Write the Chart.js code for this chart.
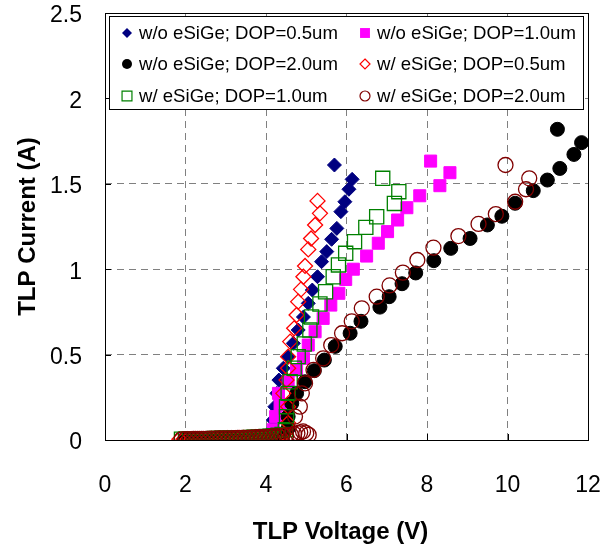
<!DOCTYPE html>
<html>
<head>
<meta charset="utf-8">
<script src="https://cdn.jsdelivr.net/npm/chart.js@4.4.1/dist/chart.umd.min.js"></script>
<style>
  html, body { margin: 0; padding: 0; background: #fff; }
  #wrap { width: 611px; height: 544px; }
</style>
</head>
<body>
<div id="wrap"><canvas id="tlpChart" width="611" height="544"></canvas></div>
<script>
// tick labels
const xTickLabels = ['0', '2', '4', '6', '8', '10', '12'];
const yTickLabels = ['0', '0.5', '1', '1.5', '2', '2.5'];

// w/o eSiGe; DOP=0.5um
const woDop05V = [1.95, 2.05, 2.15, 2.25, 2.35, 2.45, 2.55, 2.65, 2.75, 2.85, 2.95, 3.05, 3.15, 3.25, 3.35, 3.45, 3.55, 3.65, 3.75, 3.85, 3.95, 4.05, 4.12, 4.15, 4.18, 4.22, 4.27, 4.32, 4.43, 4.55, 4.68, 4.80, 4.93, 5.05, 5.15, 5.28, 5.38, 5.51, 5.63, 5.76, 5.86, 5.96, 6.06, 6.14, 5.70];
const woDop05I = [0.004, 0.005, 0.005, 0.006, 0.006, 0.007, 0.007, 0.008, 0.008, 0.009, 0.009, 0.010, 0.011, 0.011, 0.012, 0.013, 0.014, 0.015, 0.016, 0.018, 0.020, 0.024, 0.035, 0.060, 0.117, 0.195, 0.273, 0.351, 0.420, 0.488, 0.566, 0.644, 0.720, 0.800, 0.878, 0.956, 1.044, 1.103, 1.175, 1.239, 1.337, 1.395, 1.468, 1.526, 1.610];

// w/o eSiGe; DOP=1.0um
const woDop10V = [2.00, 2.10, 2.20, 2.30, 2.40, 2.50, 2.60, 2.70, 2.80, 2.90, 3.00, 3.10, 3.20, 3.30, 3.40, 3.50, 3.60, 3.70, 3.80, 3.90, 4.00, 4.10, 4.18, 4.24, 4.35, 4.31, 4.55, 4.76, 4.93, 5.05, 5.22, 5.42, 5.61, 5.81, 5.98, 6.17, 6.50, 6.79, 7.02, 7.27, 7.50, 7.82, 8.32, 8.57, 8.09];
const woDop10I = [0.005, 0.005, 0.006, 0.006, 0.007, 0.007, 0.008, 0.008, 0.009, 0.009, 0.010, 0.010, 0.011, 0.012, 0.012, 0.013, 0.014, 0.015, 0.016, 0.017, 0.019, 0.022, 0.060, 0.137, 0.205, 0.273, 0.341, 0.410, 0.478, 0.556, 0.634, 0.712, 0.790, 0.859, 0.940, 1.000, 1.077, 1.152, 1.220, 1.288, 1.360, 1.430, 1.489, 1.565, 1.633];

// w/o eSiGe; DOP=2.0um
const woDop20V = [2.00, 2.10, 2.20, 2.30, 2.40, 2.50, 2.60, 2.70, 2.80, 2.90, 3.00, 3.10, 3.20, 3.30, 3.40, 3.50, 3.60, 3.70, 3.80, 3.90, 4.00, 4.10, 4.20, 4.30, 4.40, 4.55, 4.55, 4.64, 4.76, 4.97, 5.20, 5.45, 5.72, 6.09, 6.36, 6.83, 7.06, 7.38, 7.72, 8.17, 8.59, 9.07, 9.50, 9.86, 10.19, 10.64, 10.99, 11.30, 11.65, 11.84, 11.24];
const woDop20I = [0.005, 0.005, 0.006, 0.006, 0.007, 0.007, 0.008, 0.008, 0.009, 0.009, 0.010, 0.010, 0.011, 0.012, 0.012, 0.013, 0.014, 0.015, 0.016, 0.017, 0.018, 0.020, 0.022, 0.025, 0.030, 0.068, 0.137, 0.215, 0.273, 0.341, 0.406, 0.468, 0.548, 0.625, 0.695, 0.778, 0.839, 0.915, 0.978, 1.050, 1.122, 1.180, 1.259, 1.310, 1.386, 1.460, 1.522, 1.590, 1.672, 1.741, 1.819];

// w/ eSiGe; DOP=0.5um
const wDop05V = [1.85, 1.95, 2.05, 2.15, 2.25, 2.35, 2.45, 2.55, 2.65, 2.75, 2.85, 2.95, 3.05, 3.15, 3.25, 3.35, 3.45, 3.55, 3.65, 3.75, 3.85, 3.95, 4.05, 4.15, 4.25, 4.35, 4.45, 4.55, 4.55, 4.43, 4.51, 4.55, 4.55, 4.60, 4.70, 4.76, 4.80, 4.87, 4.93, 4.97, 5.05, 5.12, 5.22, 5.34, 5.28];
const wDop05I = [0.004, 0.004, 0.005, 0.005, 0.006, 0.006, 0.007, 0.007, 0.008, 0.008, 0.009, 0.009, 0.010, 0.010, 0.011, 0.012, 0.013, 0.014, 0.015, 0.016, 0.017, 0.018, 0.020, 0.022, 0.024, 0.027, 0.035, 0.100, 0.195, 0.273, 0.351, 0.420, 0.488, 0.576, 0.654, 0.732, 0.810, 0.882, 0.956, 1.019, 1.116, 1.180, 1.259, 1.327, 1.400];

// w/ eSiGe; DOP=1.0um
const wDop10V = [1.90, 2.00, 2.10, 2.20, 2.30, 2.40, 2.50, 2.60, 2.70, 2.80, 2.90, 3.00, 3.10, 3.20, 3.30, 3.40, 3.50, 3.60, 3.70, 3.80, 3.90, 4.00, 4.10, 4.20, 4.30, 4.40, 4.48, 4.51, 4.51, 4.55, 4.60, 4.70, 4.80, 4.95, 5.09, 5.13, 5.34, 5.48, 5.67, 5.80, 5.98, 6.20, 6.48, 6.75, 7.19, 7.30, 6.90];
const wDop10I = [0.005, 0.005, 0.006, 0.006, 0.007, 0.007, 0.008, 0.008, 0.009, 0.009, 0.010, 0.010, 0.011, 0.012, 0.012, 0.013, 0.014, 0.015, 0.016, 0.017, 0.018, 0.020, 0.022, 0.025, 0.028, 0.032, 0.060, 0.137, 0.195, 0.273, 0.341, 0.420, 0.488, 0.562, 0.644, 0.720, 0.796, 0.868, 0.956, 1.025, 1.093, 1.161, 1.245, 1.307, 1.385, 1.454, 1.532];

// w/ eSiGe; DOP=2.0um
const wDop20V = [1.90, 2.00, 2.10, 2.20, 2.30, 2.40, 2.50, 2.60, 2.70, 2.80, 2.90, 3.00, 3.10, 3.20, 3.30, 3.40, 3.50, 3.60, 3.70, 3.80, 3.90, 4.00, 4.10, 4.20, 4.30, 4.40, 4.50, 4.62, 4.70, 4.78, 4.85, 4.92, 5.00, 5.06, 4.72, 4.84, 4.89, 4.97, 5.18, 5.42, 5.62, 5.89, 6.13, 6.38, 6.75, 7.07, 7.40, 7.76, 8.16, 8.78, 9.28, 9.71, 10.19, 10.46, 10.54, 9.95];
const wDop20I = [0.004, 0.005, 0.005, 0.006, 0.006, 0.007, 0.007, 0.008, 0.008, 0.009, 0.009, 0.010, 0.010, 0.011, 0.012, 0.012, 0.013, 0.014, 0.015, 0.016, 0.017, 0.018, 0.020, 0.022, 0.024, 0.026, 0.028, 0.030, 0.035, 0.040, 0.045, 0.050, 0.040, 0.030, 0.137, 0.195, 0.273, 0.332, 0.410, 0.478, 0.556, 0.625, 0.695, 0.771, 0.839, 0.905, 0.980, 1.054, 1.126, 1.194, 1.265, 1.323, 1.395, 1.468, 1.532, 1.610];

const seriesNames = [
  'w/o eSiGe; DOP=0.5um', 'w/o eSiGe; DOP=1.0um', 'w/o eSiGe; DOP=2.0um',
  'w/ eSiGe; DOP=0.5um', 'w/ eSiGe; DOP=1.0um', 'w/ eSiGe; DOP=2.0um'
];

function toPoints(vs, is) {
  return vs.map((v, k) => ({ x: v, y: is[k] }));
}

const FONT = 'Arial, "Liberation Sans", sans-serif';

const styles = [
  { pointStyle: 'rectRot', radius: 7, fill: '#000080', stroke: '#000080', width: 1, open: false },
  { pointStyle: 'rect', radius: 8.5, fill: '#FF00FF', stroke: '#FF00FF', width: 1, open: false },
  { pointStyle: 'circle', radius: 7, fill: '#000000', stroke: '#000000', width: 1, open: false },
  { pointStyle: 'rectRot', radius: 7.5, fill: 'rgba(0,0,0,0)', stroke: '#FF0000', width: 1.3, open: true },
  { pointStyle: 'rect', radius: 10, fill: 'rgba(0,0,0,0)', stroke: '#008000', width: 1.3, open: true },
  { pointStyle: 'circle', radius: 7.5, fill: 'rgba(0,0,0,0)', stroke: '#800000', width: 1.3, open: true }
];

const seriesData = [
  toPoints(woDop05V, woDop05I),
  toPoints(woDop10V, woDop10I),
  toPoints(woDop20V, woDop20I),
  toPoints(wDop05V, wDop05I),
  toPoints(wDop10V, wDop10I),
  toPoints(wDop20V, wDop20I)
];

const datasets = seriesData.map((d, k) => ({
  label: seriesNames[k],
  data: d,
  showLine: false,
  pointStyle: styles[k].pointStyle,
  pointRadius: styles[k].radius,
  pointBackgroundColor: styles[k].fill,
  pointBorderColor: styles[k].stroke,
  pointBorderWidth: styles[k].width,
  order: 5 - k // later series on top, like the original
}));

function drawMarker(ctx, s, x, y, r) {
  ctx.save();
  ctx.beginPath();
  if (s.pointStyle === 'circle') {
    ctx.arc(x, y, r, 0, Math.PI * 2);
  } else if (s.pointStyle === 'rect') {
    const h = r * Math.SQRT1_2;
    ctx.rect(x - h, y - h, 2 * h, 2 * h);
  } else {
    ctx.moveTo(x, y - r);
    ctx.lineTo(x + r, y);
    ctx.lineTo(x, y + r);
    ctx.lineTo(x - r, y);
    ctx.closePath();
  }
  if (!s.open) {
    ctx.fillStyle = s.fill;
    ctx.fill();
  } else {
    ctx.strokeStyle = s.stroke;
    ctx.lineWidth = 1.2;
    ctx.stroke();
  }
  ctx.restore();
}

const framePlugin = {
  id: 'frame',
  beforeDatasetsDraw(chart) {
    const { ctx, chartArea: a, scales } = chart;
    ctx.save();
    ctx.strokeStyle = '#000';
    ctx.lineWidth = 1;
    ctx.strokeRect(a.left + 0.5, a.top + 0.5, a.right - a.left, a.bottom - a.top);
    // short inside tick marks
    ctx.beginPath();
    scales.x.ticks.forEach(t => {
      const px = Math.round(scales.x.getPixelForValue(t.value)) + 0.5;
      ctx.moveTo(px, a.bottom);
      ctx.lineTo(px, a.bottom - 6);
    });
    scales.y.ticks.forEach(t => {
      const py = Math.round(scales.y.getPixelForValue(t.value)) + 0.5;
      ctx.moveTo(a.left, py);
      ctx.lineTo(a.left + 6, py);
    });
    ctx.stroke();
    ctx.restore();
  },
  afterDraw(chart) {
    const { ctx, chartArea: a } = chart;
    ctx.save();
    // axis titles
    ctx.fillStyle = '#000';
    ctx.font = 'bold 24px ' + FONT;
    ctx.textAlign = 'center';
    ctx.textBaseline = 'alphabetic';
    ctx.fillText('TLP Voltage (V)', (a.left + a.right) / 2 - 6, 539);
    ctx.save();
    ctx.translate(35, (a.top + a.bottom) / 2);
    ctx.rotate(-Math.PI / 2);
    ctx.fillText('TLP Current (A)', 0, 0);
    ctx.restore();

    // legend box
    const lx = 109.5, ly = 16.5, lw = 474, lh = 93;
    ctx.fillStyle = '#fff';
    ctx.fillRect(lx, ly, lw, lh);
    ctx.strokeStyle = '#000';
    ctx.lineWidth = 1;
    ctx.strokeRect(lx, ly, lw, lh);
    const colX = [127, 365];
    const rowY = [33, 64, 96];
    ctx.font = '18.6px ' + FONT;
    ctx.textAlign = 'left';
    ctx.textBaseline = 'middle';
    seriesNames.forEach((name, k) => {
      const cx = colX[k % 2];
      const cy = rowY[Math.floor(k / 2)];
      drawMarker(ctx, styles[k], cx, cy, styles[k].pointStyle === 'rect' ? 7 : 5);
      ctx.fillStyle = '#000';
      ctx.fillText(name, cx + 12, cy + 1);
    });
    ctx.restore();
  }
};

new Chart(document.getElementById('tlpChart'), {
  type: 'scatter',
  data: { datasets },
  options: {
    responsive: false,
    animation: false,
    events: [],
    layout: { padding: { left: 0, right: 23, top: 13, bottom: 0 } },
    plugins: {
      legend: { display: false },
      title: { display: false },
      tooltip: { enabled: false }
    },
    scales: {
      x: {
        type: 'linear',
        min: 0,
        max: 12,
        afterFit: s => { s.height = 104; s.paddingLeft = 0; s.paddingRight = 0; },
        ticks: {
          stepSize: 2,
          padding: 32,
          color: '#000',
          font: { family: FONT, size: 23 },
          callback: (v, i) => xTickLabels[i]
        },
        grid: { color: '#808080', lineWidth: 1, drawTicks: false },
        border: { display: false, dash: [7, 5] }
      },
      y: {
        type: 'linear',
        min: 0,
        max: 2.5,
        afterFit: s => { s.width = 105; s.paddingTop = 0; s.paddingBottom = 0; },
        ticks: {
          stepSize: 0.5,
          padding: 23,
          labelOffset: 3,
          color: '#000',
          font: { family: FONT, size: 23 },
          callback: (v, i) => yTickLabels[i]
        },
        grid: { color: '#808080', lineWidth: 1, drawTicks: false },
        border: { display: false, dash: [7, 5] }
      }
    }
  },
  plugins: [framePlugin]
});
</script>
</body>
</html>
